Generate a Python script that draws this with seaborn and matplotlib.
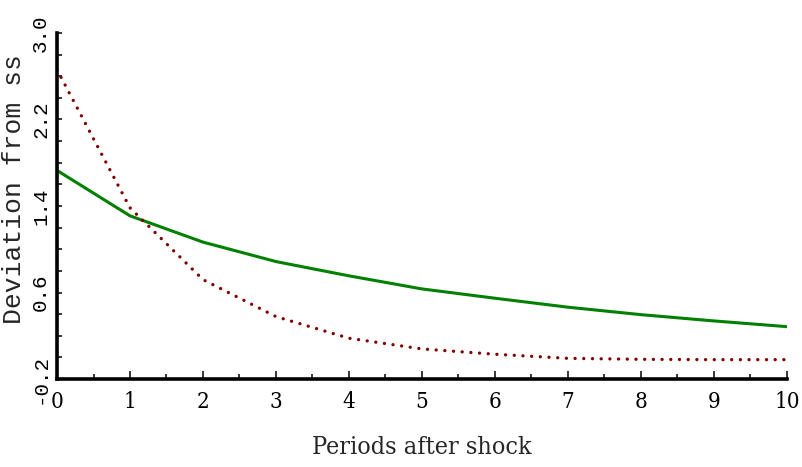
import matplotlib
matplotlib.use("Agg")
import matplotlib.pyplot as plt
from matplotlib.ticker import FixedLocator, MultipleLocator
from matplotlib.font_manager import FontProperties
import pandas as pd
import seaborn as sns

# Impulse responses: deviation from steady state by period after the shock
periods = [0, 1, 2, 3, 4, 5, 6, 7, 8, 9, 10]
green_path = [1.729, 1.309, 1.066, 0.886, 0.754, 0.633, 0.547, 0.464, 0.395, 0.337, 0.284]
red_path = [2.661, 1.383, 0.719, 0.377, 0.177, 0.078, 0.029, -0.009, -0.018, -0.021, -0.021]

y_tick_values = [-0.2, 0.6, 1.4, 2.2, 3.0]
y_tick_labels = ["-0.2", "0.6", "1.4", "2.2", "3.0"]
x_tick_values = periods
x_tick_labels = [str(p) for p in periods]

df = pd.DataFrame({"period": periods, "green": green_path, "red": red_path})

sns.set_style("ticks")
plt.rcParams["font.family"] = ["DejaVu Sans"]

fig = plt.figure(figsize=(8.03, 4.67), dpi=100)
ax = fig.add_axes([57 / 803, 1 - 379 / 467, 730 / 803, 346 / 467])

sns.lineplot(data=df, x="period", y="green", ax=ax, color="#008000",
             linewidth=2.2, solid_joinstyle="miter")
sns.lineplot(data=df, x="period", y="red", ax=ax, color="#800000",
             linewidth=2.4, linestyle=(0, (0.01, 2.6)), dash_capstyle="round")

ax.set_xlim(0, 10)
ax.set_ylim(-0.2, 3.0)

for side in ("top", "right"):
    ax.spines[side].set_visible(False)
for side in ("left", "bottom"):
    ax.spines[side].set_linewidth(2.6)
    ax.spines[side].set_color("black")

# x axis: integer periods with half-period minor ticks
ax.xaxis.set_major_locator(FixedLocator(x_tick_values))
ax.xaxis.set_minor_locator(MultipleLocator(0.5))
ax.set_xticks(x_tick_values, x_tick_labels)
serif_cond = FontProperties(family="DejaVu Serif", stretch="condensed", size=16)
for lab in ax.get_xticklabels():
    lab.set_fontproperties(serif_cond)
ax.tick_params(axis="x", which="major", direction="in", length=6, width=1.1,
               pad=9, colors="black")
ax.tick_params(axis="x", which="minor", direction="in", length=3.5, width=1.1,
               colors="black")

# y axis: labelled every 0.8, ticked every 0.2
ax.yaxis.set_major_locator(FixedLocator(y_tick_values))
ax.yaxis.set_minor_locator(MultipleLocator(0.2))
ax.set_yticks(y_tick_values, y_tick_labels)
mono = FontProperties(family="Liberation Mono", size=15)
for lab in ax.get_yticklabels():
    lab.set_fontproperties(mono)
    lab.set_rotation(90)
    lab.set_verticalalignment("center")
ax.tick_params(axis="y", which="both", direction="in", length=3.5, width=1.1,
               pad=5, colors="black")

ax.set_xlabel("Periods after shock",
              fontproperties=FontProperties(family="DejaVu Serif", stretch="condensed", size=18))
ax.set_ylabel("Deviation from ss",
              fontproperties=FontProperties(family="Liberation Mono", size=19))
ax.xaxis.set_label_coords(0.5, -0.165)
ax.yaxis.set_label_coords(-0.043, 0.55)

fig.savefig("out.png", dpi=100)
